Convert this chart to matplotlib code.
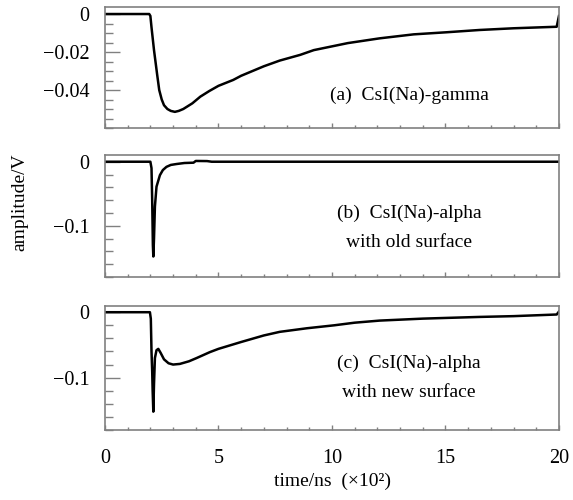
import matplotlib.pyplot as plt

plt.rcParams['font.family'] = ['Liberation Serif', 'DejaVu Serif']

# time in units of 100 ns, amplitude in V
t_a = [0, 1.95, 2.0, 2.05, 2.16, 2.3, 2.39, 2.5, 2.6, 2.75, 2.9, 3.08, 3.25, 3.45,
       3.65, 3.85, 4.2, 4.6, 5.0, 5.65, 6.0, 6.5, 7.0, 7.7, 8.6, 9.2, 10.7, 12.1,
       13.6, 15.05, 16.5, 18.0, 19.9, 20.0]
amp_a = [0, 0, -0.001, -0.007, -0.019, -0.032, -0.040, -0.045, -0.048, -0.050,
         -0.051, -0.0515, -0.051, -0.050, -0.0485, -0.047, -0.0435, -0.0405,
         -0.0378, -0.0347, -0.0325, -0.030, -0.0275, -0.0245, -0.0215, -0.019,
         -0.0153, -0.0128, -0.0107, -0.0096, -0.0084, -0.0075, -0.0067, -0.001]

t_b = [0, 2.0, 2.05, 2.08, 2.11, 2.13, 2.16, 2.2, 2.27, 2.42, 2.55, 2.71, 2.9,
       3.15, 3.5, 3.9, 4.0, 4.5, 4.7, 20.0]
amp_b = [0, 0, -0.01, -0.06, -0.13, -0.148, -0.12, -0.07, -0.039, -0.021,
         -0.013, -0.008, -0.005, -0.0036, -0.002, -0.0015, 0.0012, 0.001, 0, 0]

t_c = [0, 1.98, 2.02, 2.05, 2.08, 2.1, 2.13, 2.16, 2.2, 2.27, 2.35, 2.45, 2.6,
       2.8, 3.0, 3.3, 3.7, 4.04, 4.62, 5.0, 6.0, 7.0, 7.7, 8.9, 10.1, 11.0, 12.1,
       14.0, 15.05, 16.5, 18.0, 19.9, 20.0]
amp_c = [0, 0, -0.01, -0.06, -0.09, -0.12, -0.152, -0.11, -0.07, -0.058, -0.056,
         -0.062, -0.072, -0.078, -0.080, -0.079, -0.075, -0.070, -0.061, -0.056,
         -0.0455, -0.0355, -0.030, -0.0245, -0.020, -0.016, -0.0128, -0.0098,
         -0.0087, -0.0072, -0.006, -0.0035, 0.001]

labels = ['(a)  CsI(Na)-gamma', '(b)  CsI(Na)-alpha\nwith old surface',
          '(c)  CsI(Na)-alpha\nwith new surface']

x_ticks = [0, 5, 10, 15, 20]
x_ticklabels = ['0', '5', '10', '15', '20']
y_ticks_a = [0, -0.02, -0.04]
y_ticklabels_a = ['0', '\u22120.02', '\u22120.04']
y_ticks_bc = [0, -0.1]
y_ticklabels_bc = ['0', '\u22120.1']

fig = plt.figure(figsize=(5.73, 5.0), dpi=100)
left, width = 0.1832, 0.7923
ax_a = fig.add_axes([left, 0.744, width, 0.242])
ax_b = fig.add_axes([left, 0.446, width, 0.244])
ax_c = fig.add_axes([left, 0.140, width, 0.248])

panels = [
    (ax_a, t_a, amp_a, (-0.06, 0.0037), y_ticks_a, y_ticklabels_a, 0.005, labels[0], 0.27),
    (ax_b, t_b, amp_b, (-0.18, 0.0105), y_ticks_bc, y_ticklabels_bc, 0.02, labels[1], 0.405),
    (ax_c, t_c, amp_c, (-0.18, 0.0095), y_ticks_bc, y_ticklabels_bc, 0.02, labels[2], 0.42),
]

for ax, t, amp, ylim, yt, ytl, ystep, lab, ly in panels:
    ax.plot(t, amp, color='black', lw=1.8, solid_joinstyle='round')
    ax.set_xlim(0, 20)
    ax.set_ylim(*ylim)
    ax.set_xticks(x_ticks)
    ax.set_xticks(range(0, 21), minor=True)
    ax.set_yticks(yt)
    ax.set_yticklabels(ytl)
    n = int(round(-ylim[0] / ystep))
    ax.set_yticks([-k * ystep for k in range(n + 1)], minor=True)
    ax.tick_params(axis='y', which='major', direction='in', length=11, width=1.0,
                   color='#808080', labelsize=14.5, pad=11)
    ax.tick_params(axis='y', which='minor', direction='in', length=6, width=1.0,
                   color='#808080')
    ax.tick_params(axis='x', which='major', direction='in', length=3.5, width=1.0,
                   color='#808080', labelsize=14.5, pad=14)
    ax.tick_params(axis='x', which='minor', direction='in', length=2, width=1.0,
                   color='#808080')
    for s in ax.spines.values():
        s.set_color('#808080')
        s.set_linewidth(1.2)
    ax.text(0.67, ly, lab, transform=ax.transAxes, ha='center', va='center',
            fontsize=14, linespacing=1.95)

ax_a.tick_params(axis='x', labelbottom=False)
ax_b.tick_params(axis='x', labelbottom=False)
ax_c.set_xticklabels(x_ticklabels)

fig.text(0.035, 0.595, 'amplitude/V', rotation=90, ha='center', va='center', fontsize=14)
fig.text(0.58, 0.038, 'time/ns  (\u00d710\u00b2)', ha='center', va='center', fontsize=14)

fig.savefig('out.png', dpi=100)
